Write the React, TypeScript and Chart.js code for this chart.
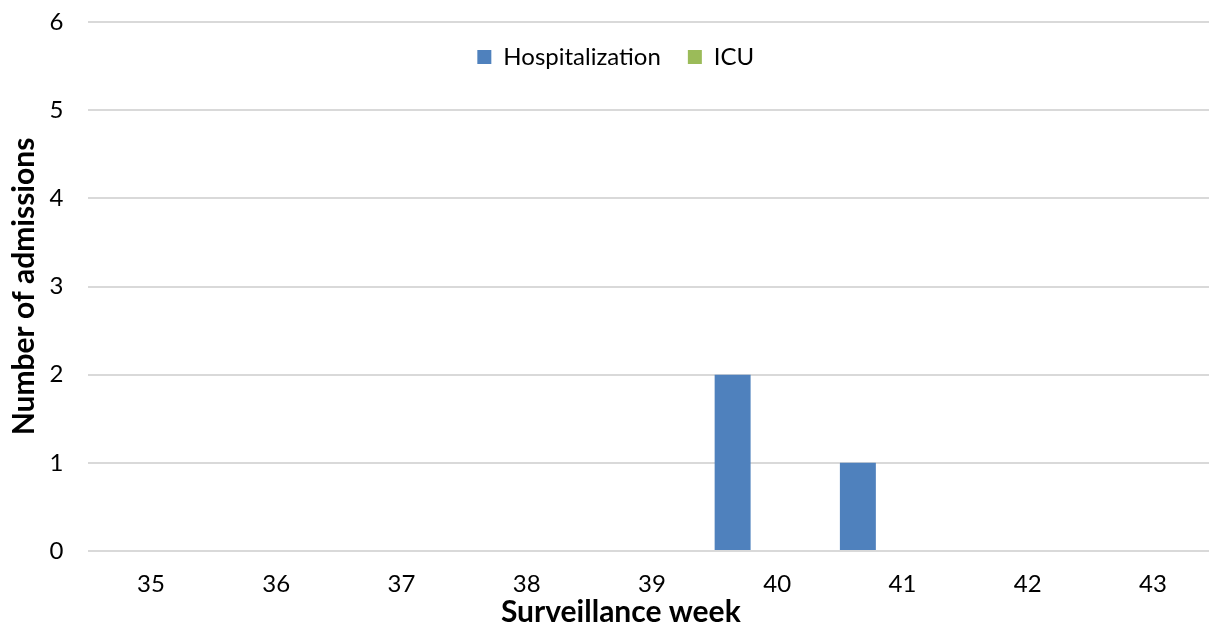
import React, { useEffect, useRef } from "react";
import { Chart, registerables } from "chart.js";

Chart.register(...registerables);

const weeks = ["35", "36", "37", "38", "39", "40", "41", "42", "43"];
const hospitalization = [0, 0, 0, 0, 0, 2, 1, 0, 0];
const icu = [0, 0, 0, 0, 0, 0, 0, 0, 0];
const yTicks = [0, 1, 2, 3, 4, 5, 6];

const FONT = "Lato, 'Open Sans', sans-serif";

// Legend overlays the plot area (as in the original): reserve no layout space, then place it.
const overlayLegend = {
  id: "overlayLegend",
  beforeLayout(chart: any) {
    const l = chart.legend;
    if (l && !l.__overlay) {
      const orig = l.fit;
      l.fit = function (this: any) {
        orig.call(this);
        this.__h = this.height;
        this.height = 0;
      };
      l.__overlay = true;
    }
  },
  afterLayout(chart: any) {
    const l = chart.legend;
    if (l) {
      l.top = 18;
      l.bottom = 18 + (l.__h || 0);
      l.left += 8;
      l.right += 8;
    }
    const t = chart.titleBlock;
    if (t) {
      t.left += 13;
      t.right += 13;
    }
  },
};

export default function App() {
  const ref = useRef<HTMLCanvasElement | null>(null);
  useEffect(() => {
    if (!ref.current) return;
    const chart = new Chart(ref.current, {
      type: "bar",
      data: {
        labels: weeks,
        datasets: [
          {
            label: "Hospitalization",
            data: hospitalization,
            backgroundColor: "#4F81BD",
            borderWidth: 0,
            categoryPercentage: 1.425,
            barPercentage: 0.403,
          },
          {
            label: "ICU",
            data: icu,
            backgroundColor: "#9BBB59",
            borderWidth: 0,
            categoryPercentage: 1.425,
            barPercentage: 0.403,
          },
        ],
      },
      options: {
        responsive: false,
        animation: false,
        devicePixelRatio: 1,
        layout: { padding: { top: 22, right: 14.4, bottom: 0, left: 0 } },
        plugins: {
          legend: {
            position: "top",
            labels: {
              boxWidth: 14,
              boxHeight: 14,
              padding: 27,
              color: "#000",
              font: { family: FONT, size: 24 },
            },
          },
          title: {
            display: true,
            position: "bottom",
            text: "Surveillance week",
            color: "#000",
            font: { family: FONT, size: 30, weight: "bold" },
            padding: { top: 0, bottom: 0 },
          },
          tooltip: { enabled: false },
        },
        scales: {
          x: {
            grid: { display: false, drawTicks: false },
            border: { display: false },
            ticks: { color: "#000", padding: 19, font: { family: FONT, size: 24 } },
            afterFit(scale: any) {
              scale.height = 43;
            },
          },
          y: {
            min: 0,
            max: 6,
            afterBuildTicks(scale: any) {
              scale.ticks = yTicks.map((v) => ({ value: v }));
            },
            grid: { color: "#d9d9d9", lineWidth: 2, drawTicks: false },
            border: { display: false },
            ticks: { color: "#000", padding: 25, font: { family: FONT, size: 24 } },
            title: {
              display: true,
              text: "Number of admissions",
              color: "#000",
              font: { family: FONT, size: 30, weight: "bold" },
              padding: { top: 6, bottom: 0 },
            },
            afterFit(scale: any) {
              scale.width = 88.4;
              scale.paddingTop = 0;
              scale.paddingBottom = 0;
            },
          },
        },
      },
      plugins: [overlayLegend],
    } as any);
    return () => chart.destroy();
  }, []);
  return (
    <div style={{ position: "fixed", left: 0, top: 0, width: 1209, height: 630, overflow: "hidden", background: "#fff" }}>
      <canvas ref={ref} width={1230} height={630} style={{ display: "block", width: 1230, height: 630 }} />
    </div>
  );
}
